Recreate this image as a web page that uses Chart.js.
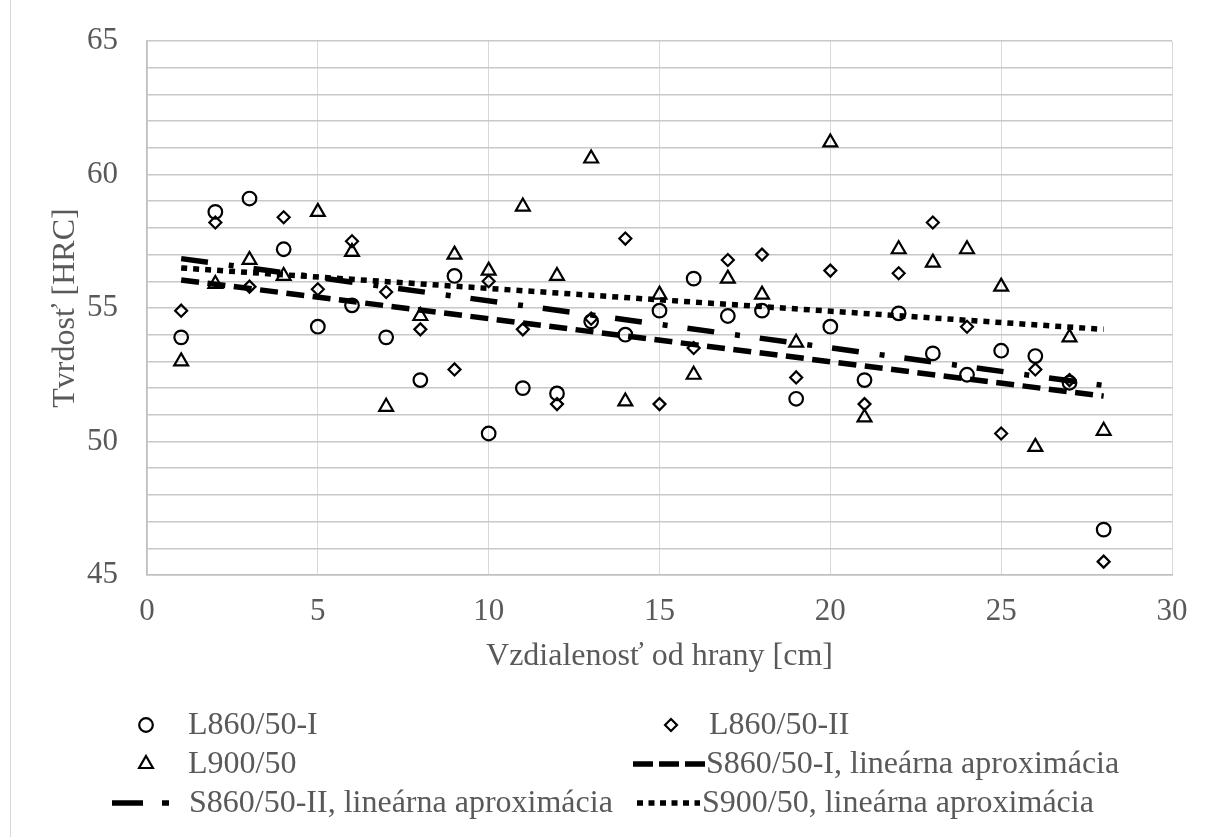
<!DOCTYPE html>
<html>
<head>
<meta charset="utf-8">
<title>Tvrdosť podľa vzdialenosti od hrany</title>
<script src="https://cdn.jsdelivr.net/npm/chart.js@4.4.1/dist/chart.umd.min.js"></script>
<style>
  html, body { margin: 0; padding: 0; background: #fff; }
  #wrap { position: relative; width: 1209px; height: 837px; }
  #edge { position: absolute; left: 10px; top: 0; width: 1px; height: 837px; background: #d9d9d9; }
</style>
</head>
<body>
<div id="wrap">
  <div id="edge"></div>
  <canvas id="chart"></canvas>
</div>
<script>
// vzdialenosť od hrany [cm]
const distances = [1, 2, 3, 4, 5, 6, 7, 8, 9, 10, 11, 12, 13, 14, 15, 16, 17, 18, 19, 20, 21, 22, 23, 24, 25, 26, 27, 28];

// tvrdosť [HRC]
const hrcL860I = [53.9, 58.6, 59.1, 57.2, 54.3, 55.1, 53.9, 52.3, 56.2, 50.3, 52.0, 51.8, 54.5, 54.0,
  54.9, 56.1, 54.7, 54.9, 51.6, 54.3, 52.3, 54.8, 53.3, 52.5, 53.4, 53.2, 52.2, 46.7];
const hrcL860II = [54.9, 58.2, 55.8, 58.4, 55.7, 57.5, 55.6, 54.2, 52.7, 56.0, 54.2, 51.4, 54.6, 57.6,
  51.4, 53.5, 56.8, 57.0, 52.4, 56.4, 51.4, 56.3, 58.2, 54.3, 50.3, 52.7, 52.3, 45.5];
const hrcL900 = [53.0, 55.9, 56.8, 56.2, 58.6, 57.1, 51.3, 54.7, 57.0, 56.4, 58.8, 56.2, 60.6, 51.5,
  55.5, 52.5, 56.1, 55.5, 53.7, 61.2, 50.9, 57.2, 56.7, 57.2, 55.8, 49.8, 53.9, 50.4];

// lineárna aproximácia - koncové body odčítané z grafu
const trendX = [1, 28];
const trendS860I = [56.05, 51.7];
const trendS860II = [56.85, 52.1];
const trendS900 = [56.5, 54.2];

const seriesNames = [
  "L860/50-I",
  "L860/50-II",
  "L900/50",
  "S860/50-I, lineárna aproximácia",
  "S860/50-II, lineárna aproximácia",
  "S900/50, lineárna aproximácia",
];

const FONT = '"Liberation Serif", "Times New Roman", serif';
const TEXT = "#595959";

function pts(xs, ys) {
  return xs.map((x, i) => ({ x, y: ys[i] }));
}

function markerSet(label, data, style, radius) {
  return {
    type: "scatter",
    label,
    data: pts(distances, data),
    pointStyle: style,
    pointRadius: radius,
    pointHoverRadius: radius,
    pointBorderWidth: 2.2,
    borderWidth: 2.2,
    pointBorderColor: "#000",
    borderColor: "#000",
    pointBackgroundColor: "rgba(0,0,0,0)",
    backgroundColor: "rgba(0,0,0,0)",
    showLine: false,
  };
}

function trendSet(label, data, dash) {
  return {
    type: "line",
    label,
    data: pts(trendX, data),
    borderColor: "#000",
    borderWidth: 5.5,
    borderDash: dash,
    borderCapStyle: "butt",
    pointRadius: 0,
    fill: false,
    tension: 0,
  };
}

// rozloženie legendy (2 stĺpce, 3 riadky)
const legendSlots = [
  { ds: 0, x: 146, y: 725, textX: 188 },
  { ds: 1, x: 671, y: 725, textX: 709 },
  { ds: 2, x: 146, y: 764, textX: 188 },
  { ds: 3, x0: 633, x1: 705, y: 764, textX: 706, dash: [20, 6] },
  { ds: 4, x0: 112, x1: 170, y: 803, textX: 189, dash: [31, 19, 7, 20] },
  { ds: 5, x0: 637, x1: 700, y: 803, textX: 702, dash: [6, 5.5] },
];

const legendPlugin = {
  id: "gridLegend",
  afterDraw(chart) {
    const ctx = chart.ctx;
    ctx.save();
    for (const s of legendSlots) {
      const ds = chart.data.datasets[s.ds];
      if (s.x !== undefined) {
        ctx.fillStyle = "rgba(0,0,0,0)";
        ctx.strokeStyle = "#000";
        ctx.lineWidth = ds.pointBorderWidth;
        ctx.setLineDash([]);
        Chart.helpers.drawPoint(ctx, {
          pointStyle: ds.pointStyle,
          radius: ds.pointRadius,
          borderWidth: ds.pointBorderWidth,
          rotation: 0,
        }, s.x, s.y);
      } else {
        ctx.beginPath();
        ctx.setLineDash(s.dash);
        ctx.lineDashOffset = 0;
        ctx.lineCap = "butt";
        ctx.strokeStyle = "#000";
        ctx.lineWidth = 5.5;
        ctx.moveTo(s.x0, s.y);
        ctx.lineTo(s.x1, s.y);
        ctx.stroke();
        ctx.setLineDash([]);
      }
      ctx.fillStyle = TEXT;
      ctx.font = "32px " + FONT;
      ctx.textAlign = "left";
      ctx.textBaseline = "middle";
      ctx.fillText(ds.label, s.textX, s.y + 1);
    }
    ctx.restore();
  },
};

new Chart(document.getElementById("chart"), {
  data: {
    datasets: [
      markerSet(seriesNames[0], hrcL860I, "circle", 6.8),
      markerSet(seriesNames[1], hrcL860II, "rectRot", 6),
      markerSet(seriesNames[2], hrcL900, "triangle", 8),
      trendSet(seriesNames[3], trendS860I, [18, 8.5]),
      trendSet(seriesNames[4], trendS860II, [27, 21, 5, 20]),
      trendSet(seriesNames[5], trendS900, [6, 6]),
    ],
  },
  options: {
    responsive: true,
    maintainAspectRatio: false,
    animation: false,
    layout: { padding: { left: 10, top: 41, right: 37, bottom: 161 } },
    plugins: {
      legend: { display: false },
      tooltip: { enabled: false },
    },
    scales: {
      x: {
        type: "linear",
        min: 0,
        max: 30,
        ticks: {
          stepSize: 5,
          color: TEXT,
          font: { family: FONT, size: 31 },
          padding: 18,
          maxRotation: 0,
        },
        grid: { color: "#d9d9d9", lineWidth: 1, drawTicks: false },
        border: { color: "#bfbfbf", width: 1.5 },
        title: {
          display: true,
          text: "Vzdialenosť od hrany [cm]",
          color: TEXT,
          font: { family: FONT, size: 32 },
          padding: { top: 0, bottom: 0 },
        },
        afterFit(scale) { scale.height = 101; },
      },
      y: {
        type: "linear",
        min: 45,
        max: 65,
        ticks: {
          stepSize: 1,
          autoSkip: false,
          color: TEXT,
          font: { family: FONT, size: 31 },
          padding: 29,
          callback: (v) => (v % 5 === 0 ? v : ""),
        },
        grid: { color: "#c8c8c8", lineWidth: 1.5, drawTicks: false },
        border: { color: "#bfbfbf", width: 1.5 },
        title: {
          display: true,
          text: "Tvrdosť [HRC]",
          color: TEXT,
          font: { family: FONT, size: 32 },
          padding: { top: 36, bottom: 0 },
        },
        afterFit(scale) {
          scale.width = 137;
          // tick padding would otherwise push the plot area down
          scale.paddingTop = 0;
          scale.paddingBottom = 0;
        },
      },
    },
  },
  plugins: [legendPlugin],
});
</script>
</body>
</html>
